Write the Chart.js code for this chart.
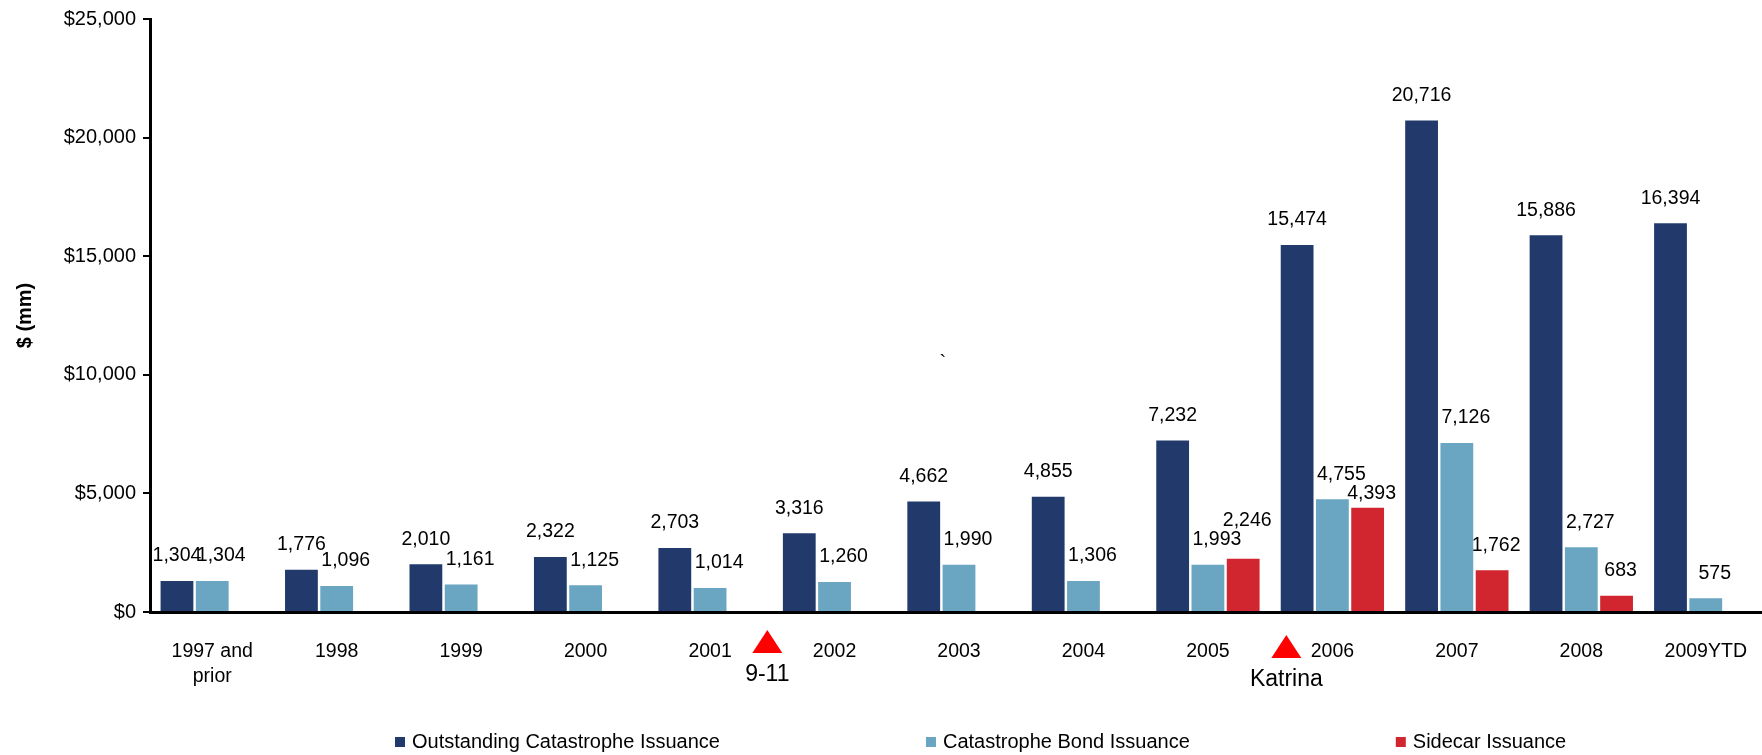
<!DOCTYPE html>
<html>
<head>
<meta charset="utf-8">
<script src="https://cdn.jsdelivr.net/npm/chart.js@4.4.1/dist/chart.umd.min.js"></script>
<style>
  html, body { margin: 0; padding: 0; background: #fff; overflow: hidden; }
  #wrap { width: 1768px; height: 755px; }
</style>
</head>
<body>
<div id="wrap"><canvas id="cat" width="1768" height="755"></canvas></div>
<script>
// Issuance by year, $ mm
const years = [['1997 and', 'prior'], '1998', '1999', '2000', '2001', '2002', '2003',
    '2004', '2005', '2006', '2007', '2008', '2009YTD'];
const outstanding = [1304, 1776, 2010, 2322, 2703, 3316, 4662, 4855, 7232, 15474, 20716, 15886, 16394];
const bondIssuance = [1304, 1096, 1161, 1125, 1014, 1260, 1990, 1306, 1993, 4755, 7126, 2727, 575];
const sidecar = [null, null, null, null, null, null, null, null, 2246, 4393, 1762, 683, null];
const yTicks = [0, 5000, 10000, 15000, 20000, 25000];

// events marked under the axis, placed between categories
const events = ['9-11', 'Katrina'];
const eventAt = [4.46, 8.63];

const FONT = "'Liberation Sans', Arial, Helvetica, sans-serif";
const NAVY = '#213A6B';
const SKY = '#6AA5C2';
const RED = '#D1262F';

// value above each bar; labels that would collide in a group get nudged apart
const valueLabels = {
    id: 'valueLabels',
    afterDatasetsDraw(chart) {
        const ctx = chart.ctx;
        const lineH = 19;
        ctx.save();
        ctx.font = `19.5px ${FONT}`;
        ctx.fillStyle = '#000';
        ctx.textAlign = 'center';
        ctx.textBaseline = 'middle';
        chart.data.labels.forEach((_, j) => {
            const placed = [];
            chart.data.datasets.forEach((ds, i) => {
                const v = ds.data[j];
                if (v == null) return;
                const bar = chart.getDatasetMeta(i).data[j];
                const text = v.toLocaleString('en-US');
                const w = ctx.measureText(text).width;
                const x = bar.x + (ds.labelShift || 0);
                let y = bar.y - 25;
                placed.forEach(p => {
                    const overlapX = Math.min(x + w / 2, p.x + p.w / 2) - Math.max(x - w / 2, p.x - p.w / 2);
                    if (overlapX > 10 && Math.abs(y - p.y) < lineH) {
                        y = y <= p.y ? p.y - lineH : p.y + lineH;
                    }
                });
                placed.push({ x, y, w });
                ctx.fillText(text, x, y);
            });
        });
        ctx.restore();
    }
};

const eventMarkers = {
    id: 'eventMarkers',
    afterDraw(chart) {
        const ctx = chart.ctx;
        const xs = chart.scales.x;
        const base = chart.chartArea.bottom;
        const drop = [18, 23];
        ctx.save();
        events.forEach((name, i) => {
            const cx = xs.getPixelForValue(eventAt[i]);
            const top = base + drop[i];
            ctx.fillStyle = '#FF0000';
            ctx.beginPath();
            ctx.moveTo(cx, top);
            ctx.lineTo(cx + 15, top + 23);
            ctx.lineTo(cx - 15, top + 23);
            ctx.closePath();
            ctx.fill();
            ctx.fillStyle = '#000';
            ctx.font = `23px ${FONT}`;
            ctx.textAlign = 'center';
            ctx.textBaseline = 'middle';
            ctx.fillText(name, cx, top + 45);
        });
        // stray tick mark left in the plot area
        const ys = chart.scales.y;
        ctx.font = `20px ${FONT}`;
        ctx.textBaseline = 'alphabetic';
        ctx.fillText('`', xs.getPixelForValue(5.87), ys.getPixelForValue(10800) + 13);
        ctx.restore();
    }
};

const bottomLegend = {
    id: 'bottomLegend',
    afterDraw(chart) {
        const ctx = chart.ctx;
        const y = 742;
        let x = 395;
        ctx.save();
        ctx.font = `20px ${FONT}`;
        ctx.textAlign = 'left';
        ctx.textBaseline = 'middle';
        chart.data.datasets.forEach(ds => {
            ctx.fillStyle = ds.backgroundColor;
            ctx.fillRect(x, y - 5, 10, 10);
            ctx.fillStyle = '#000';
            ctx.fillText(ds.label, x + 17, y);
            x += 17 + ctx.measureText(ds.label).width + 206;
        });
        ctx.restore();
    }
};

new Chart(document.getElementById('cat'), {
    type: 'bar',
    data: {
        labels: years,
        datasets: [
            { label: 'Outstanding Catastrophe Issuance', data: outstanding, backgroundColor: NAVY },
            { label: 'Catastrophe Bond Issuance', data: bondIssuance, backgroundColor: SKY, labelShift: 9 },
            { label: 'Sidecar Issuance', data: sidecar, backgroundColor: RED, labelShift: 4 }
        ]
    },
    options: {
        responsive: false,
        animation: false,
        devicePixelRatio: 1,
        categoryPercentage: 0.85,
        barPercentage: 0.93,
        layout: { padding: { top: 19, right: 0, bottom: 60, left: 0 } },
        plugins: {
            legend: { display: false },
            tooltip: { enabled: false }
        },
        scales: {
            x: {
                grid: { display: false },
                border: { display: true, color: '#000', width: 3 },
                ticks: {
                    color: '#000',
                    font: { family: FONT, size: 19.5, lineHeight: 1.28 },
                    padding: 19,
                    maxRotation: 0,
                    autoSkip: false
                },
                afterFit(scale) { scale.height = 755 - 612 - 60; }
            },
            y: {
                min: 0,
                max: 25000,
                afterBuildTicks(scale) { scale.ticks = yTicks.map(v => ({ value: v })); },
                grid: { drawOnChartArea: false, color: '#000', lineWidth: 2, tickLength: 7 },
                border: { display: true, color: '#000', width: 3 },
                ticks: {
                    color: '#000',
                    font: { family: FONT, size: 20 },
                    padding: 7,
                    callback: v => '$' + Number(v).toLocaleString('en-US')
                },
                title: {
                    display: true,
                    text: '$ (mm)',
                    color: '#000',
                    font: { family: FONT, size: 20, weight: 'bold' },
                    padding: { top: 13, bottom: 0 }
                },
                afterFit(scale) { scale.width = 150; }
            }
        }
    },
    plugins: [valueLabels, eventMarkers, bottomLegend]
});
</script>
</body>
</html>
